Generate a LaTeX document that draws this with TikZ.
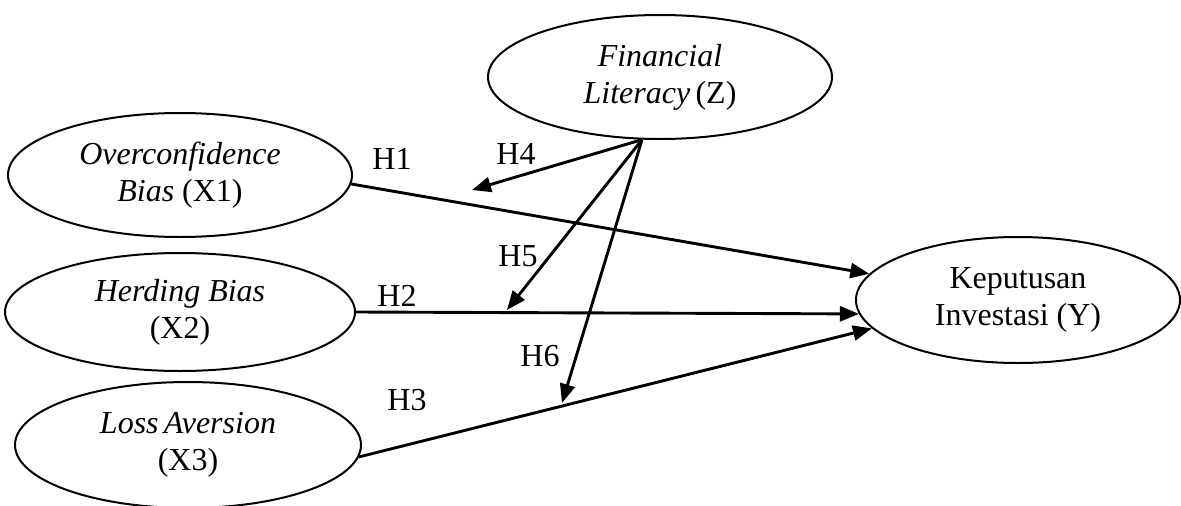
\documentclass[tikz,border=0pt]{standalone}
\usepackage{fontspec}
\setmainfont{Liberation Serif}
\usetikzlibrary{shapes.geometric,arrows.meta}
\begin{document}
\begin{tikzpicture}[x=1pt,y=-1pt,
  var/.style={ellipse,draw,line width=2pt,inner sep=0pt,align=center,
    font=\fontsize{32}{37}\selectfont},
  lbl/.style={font=\fontsize{32}{37}\selectfont,inner sep=0pt},
  conn/.style={line width=2.9pt,-{Triangle[length=19pt,width=15pt]}}
]
\useasboundingbox (0,0) rectangle (1181,506);
\node[var,minimum width=344pt,minimum height=124pt] (z) at (660,77)
  {\textit{Financial}\\\textit{Literacy}\,(Z)};
\node[var,minimum width=344pt,minimum height=124pt] (x1) at (180,175)
  {\textit{Overconfidence}\\\textit{Bias} (X1)};
\node[var,minimum width=350pt,minimum height=118pt] (x2) at (180,312)
  {\textit{Herding Bias}\\(X2)};
\node[var,minimum width=346pt,minimum height=126pt] (x3) at (188,445)
  {\textit{Loss\,Aversion}\\(X3)};
\node[var,minimum width=324pt,minimum height=126pt] (y) at (1018,300)
  {Keputusan\\Investasi (Y)};

\coordinate (t4) at (472,190);
\coordinate (t5) at (507,310);
\coordinate (t6) at (562,403);

\draw[conn] (x1.-3) -- (y.170);
\draw[conn] (x2.east) -- (y.185);
\draw[conn] (x3.-4) -- (y.191);
\draw[conn] (z.254) -- (t4);
\draw[conn] (z.254) -- (t5);
\draw[conn] (z.254) -- (t6);

\node[lbl] (h1) at (392,159) {H1};
\node[lbl] (h4) at (516,154) {H4};
\node[lbl] (h5) at (518,256) {H5};
\node[lbl] (h2) at (397,296) {H2};
\node[lbl] (h6) at (540,356) {H6};
\node[lbl] (h3) at (407,400) {H3};
\end{tikzpicture}
\end{document}
